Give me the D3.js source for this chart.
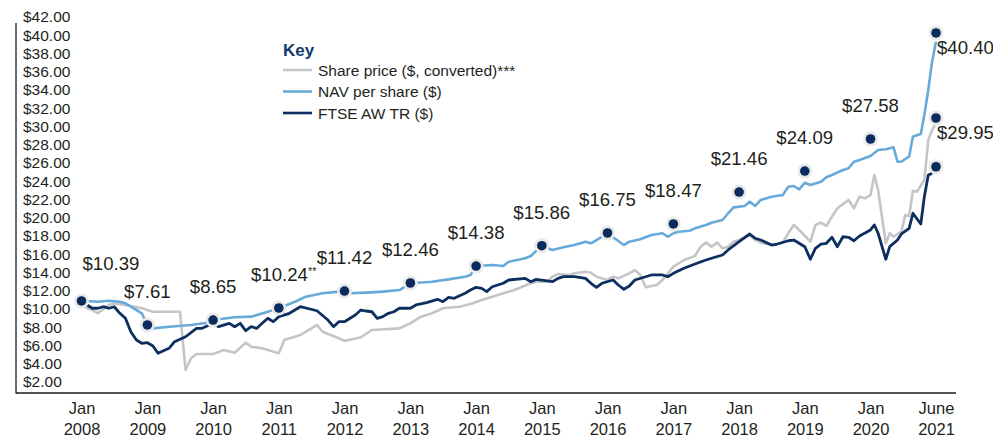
<!DOCTYPE html>
<html><head><meta charset="utf-8">
<script src="https://cdn.jsdelivr.net/npm/d3@7"></script>
<style>
body{margin:0;background:#fff;}
svg{display:block;font-family:"Liberation Sans",Arial,Helvetica,sans-serif;}
</style></head><body>
<svg id="chart" width="993" height="439"></svg>
<script>
// ---------------- DATA ----------------
const seriesNames = ["Share price ($, converted)***", "NAV per share ($)", "FTSE AW TR ($)"];

const navMonths = ["2008-01","2008-04","2008-06","2008-08","2008-09","2008-10","2008-12","2009-01","2009-02","2009-05","2009-09","2009-12","2010-01","2010-05","2010-08","2010-11","2011-01","2011-04","2011-06","2011-09","2011-12","2012-01","2012-02","2012-05","2012-08","2012-11","2013-01","2013-05","2013-08","2013-11","2013-12","2014-01","2014-04","2014-06","2014-07","2014-10","2014-11","2015-01","2015-03","2015-05","2015-07","2015-09","2015-10","2015-11","2016-01","2016-02","2016-04","2016-05","2016-07","2016-09","2016-11","2016-12","2017-01","2017-02","2017-04","2017-05","2017-07","2017-08","2017-10","2017-11","2017-12","2018-02","2018-03","2018-04","2018-05","2018-07","2018-09","2018-10","2018-11","2018-12","2019-01","2019-02","2019-04","2019-05","2019-06","2019-08","2019-09","2019-10","2019-11","2020-01","2020-03","2020-05","2020-07","2020-08","2020-09","2020-11","2020-12","2021-02","2021-03","2021-04","2021-05","2021-06"];
const navValues = [10.91,10.79,10.91,10.80,10.62,10.25,9.53,8.25,7.88,8.06,8.25,8.50,8.79,9.09,9.16,9.70,10.08,10.80,11.35,11.72,11.90,11.97,11.72,11.79,11.90,12.08,12.82,12.99,13.25,13.54,13.73,14.71,14.82,14.71,15.18,15.56,15.81,16.94,16.47,16.76,17.01,17.38,17.20,17.56,18.30,17.86,17.01,17.38,17.64,18.11,18.30,17.92,18.30,18.47,18.58,18.84,19.20,19.46,19.75,20.49,21.14,21.29,21.76,21.29,21.95,22.31,22.49,23.40,23.48,23.11,23.84,23.59,23.95,24.43,24.68,25.23,25.42,26.14,26.33,26.77,27.42,27.50,27.72,26.14,26.16,26.71,28.91,29.18,31.26,34.00,37.10,39.30];

const ftseMonths = ["2008-01","2008-02","2008-03","2008-04","2008-05","2008-06","2008-07","2008-08","2008-09","2008-10","2008-11","2008-12","2009-01","2009-02","2009-03","2009-05","2009-06","2009-08","2009-10","2009-11","2010-01","2010-02","2010-04","2010-05","2010-06","2010-07","2010-08","2010-09","2010-10","2010-11","2010-12","2011-01","2011-03","2011-05","2011-08","2011-10","2011-11","2011-12","2012-01","2012-03","2012-04","2012-05","2012-06","2012-07","2012-08","2012-09","2012-10","2012-11","2013-01","2013-02","2013-04","2013-06","2013-07","2013-08","2013-09","2013-11","2013-12","2014-01","2014-02","2014-03","2014-04","2014-06","2014-07","2014-10","2014-11","2014-12","2015-03","2015-04","2015-05","2015-07","2015-09","2015-10","2015-11","2015-12","2016-02","2016-03","2016-04","2016-05","2016-06","2016-09","2016-11","2016-12","2017-01","2017-03","2017-05","2017-07","2017-08","2017-10","2017-11","2018-01","2018-03","2018-04","2018-05","2018-07","2018-08","2018-10","2018-11","2019-01","2019-02","2019-03","2019-04","2019-05","2019-06","2019-07","2019-08","2019-09","2019-10","2019-11","2020-01","2020-02","2020-03","2020-05","2020-06","2020-08","2020-09","2020-11","2020-12","2021-02","2021-03","2021-04","2021-05"];
const ftseValues = [10.91,10.44,10.08,10.08,10.25,10.08,10.25,9.53,8.98,7.51,6.60,6.24,6.31,5.95,5.15,5.69,6.42,6.96,7.88,7.88,8.43,8.06,8.43,8.06,8.43,7.62,8.06,7.88,8.43,8.98,8.61,9.16,9.53,10.25,9.81,8.79,8.06,8.61,8.61,9.34,9.89,9.78,9.70,8.98,9.16,9.53,9.70,10.08,10.08,10.44,10.69,11.06,10.80,11.28,11.17,11.72,12.08,12.38,12.27,11.90,12.44,12.82,13.18,13.36,12.99,13.25,12.99,13.36,13.54,13.54,13.36,12.82,12.38,12.82,13.18,12.63,12.16,12.52,13.18,13.73,13.73,13.54,13.91,14.46,14.93,15.37,15.56,15.92,16.47,17.38,18.22,17.75,17.56,17.01,17.12,17.48,17.56,16.83,15.45,16.65,17.12,17.20,17.86,16.83,17.92,17.86,17.48,18.00,18.66,19.21,18.30,15.45,16.83,17.56,18.22,18.84,20.49,19.32,22.31,24.68,24.86];

const shareMonths = ["2008-01","2008-02","2008-03","2008-04","2008-06","2008-07","2008-09","2008-12","2009-02","2009-07","2009-08","2009-09","2009-10","2010-01","2010-03","2010-05","2010-07","2010-08","2010-10","2011-01","2011-02","2011-05","2011-07","2011-08","2011-09","2011-12","2012-01","2012-04","2012-06","2012-11","2013-01","2013-03","2013-05","2013-07","2013-10","2013-12","2014-02","2014-04","2014-06","2014-08","2014-11","2014-12","2015-02","2015-03","2015-04","2015-06","2015-07","2015-09","2015-10","2015-11","2016-01","2016-02","2016-03","2016-05","2016-06","2016-07","2016-08","2016-09","2016-10","2016-11","2016-12","2017-01","2017-03","2017-05","2017-06","2017-07","2017-08","2017-09","2017-10","2017-11","2017-12","2018-01","2018-03","2018-04","2018-05","2018-07","2018-09","2018-10","2018-11","2018-12","2019-02","2019-03","2019-04","2019-05","2019-06","2019-07","2019-09","2019-10","2019-11","2019-12","2020-01","2020-02","2020-03","2020-05","2020-06","2020-07","2020-09","2020-10","2020-11","2020-12","2021-01","2021-03","2021-04","2021-05","2021-06"];
const shareValues = [10.91,10.08,9.89,9.53,10.44,10.62,10.44,10.08,9.70,9.70,3.32,4.60,5.07,5.07,5.51,5.21,6.31,5.87,5.69,5.15,6.60,7.15,7.88,8.25,7.51,6.79,6.49,6.90,7.70,7.88,8.43,9.16,9.53,10.08,10.25,10.55,10.99,11.35,11.72,12.08,12.82,12.99,12.99,13.54,13.84,13.73,13.91,14.09,13.98,13.54,13.18,13.54,13.36,13.91,14.27,13.73,12.38,12.52,12.63,13.18,13.91,14.64,15.37,15.81,16.83,17.27,16.83,17.27,16.65,16.83,17.38,17.56,18.11,17.56,17.27,17.01,17.27,18.30,19.20,18.66,17.38,19.20,19.46,19.10,20.12,21.04,21.95,21.04,22.31,22.13,22.49,24.68,23.04,17.20,18.30,17.92,18.47,20.30,20.19,22.96,22.85,24.14,28.52,29.62,30.35];

// annotated NAV markers (Jan of each year) and their labels
const markerMonths = ["2008-01","2009-01","2010-01","2011-01","2012-01","2013-01","2014-01","2015-01","2016-01","2017-01","2018-01","2019-01","2020-01"];
const markerValues = [10.88,8.25,8.79,10.11,11.97,12.85,14.71,16.94,18.33,19.32,22.82,25.12,28.63];
const markerLabels = ["$10.39","$7.61","$8.65","$10.24","$11.42","$12.46","$14.38","$15.86","$16.75","$18.47","$21.46","$24.09","$27.58"];
const markerNotes = ["","","","**","","","","","","","","",""];

// end-of-period markers (June 2021): NAV, share price, FTSE
const endMonth = "2021-06";
const endValues = [40.25, 30.93, 25.59];
const endLabels = ["$40.40", "$29.95", ""];

const yTicks = [2,4,6,8,10,12,14,16,18,20,22,24,26,28,30,32,34,36,38,40,42];
const xTickMonths = ["2008-01","2009-01","2010-01","2011-01","2012-01","2013-01","2014-01","2015-01","2016-01","2017-01","2018-01","2019-01","2020-01","2021-06"];
const xTickTop = ["Jan","Jan","Jan","Jan","Jan","Jan","Jan","Jan","Jan","Jan","Jan","Jan","Jan","June"];
const xTickBottom = ["2008","2009","2010","2011","2012","2013","2014","2015","2016","2017","2018","2019","2020","2021"];

// ---------------- CHART ----------------
const parse = d3.timeParse("%Y-%m");
const svg = d3.select("#chart");
const colors = {share: "#c4c5c7", nav: "#67aad9", ftse: "#0d2f60"};
const textColor = "#231f20";

const x = d3.scaleTime()
  .domain([parse("2008-01"), parse("2020-01"), parse("2021-06")])
  .range([81.5, 870.5, 936]);
const y = d3.scaleLinear().domain([0.795, 42]).range([393, 17]);

function series(months, values){ return months.map((m,i)=>({date: parse(m), value: values[i]})); }
const line = d3.line().x(d=>x(d.date)).y(d=>y(d.value));

// axes
const yAxis = d3.axisRight(y).tickValues(yTicks).tickSize(0).tickPadding(7)
  .tickFormat(d => "$" + d.toFixed(2));
const gy = svg.append("g").attr("transform", "translate(16,0)").call(yAxis);
gy.select(".domain").remove();
gy.selectAll("text").attr("font-size", "15.5px").attr("fill", textColor)
  .attr("font-family", '"Liberation Sans",Arial,sans-serif');

const xAxis = d3.axisBottom(x).tickValues(xTickMonths.map(parse)).tickSize(0).tickFormat("");
const gx = svg.append("g").attr("transform", `translate(0,${y.range()[0]})`).call(xAxis);
gx.select(".domain").remove();
gx.selectAll(".tick").each(function(d, i){
  const t = d3.select(this).append("text").attr("fill", textColor).attr("font-size", "16.5px")
    .attr("text-anchor", "middle").attr("font-family", '"Liberation Sans",Arial,sans-serif');
  t.append("tspan").attr("x", 0).attr("y", 21).text(xTickTop[i]);
  t.append("tspan").attr("x", 0).attr("y", 42).text(xTickBottom[i]);
});

// axis lines
const y0 = y.range()[0];
svg.append("line").attr("x1", 16).attr("x2", 16).attr("y1", y.range()[1] + 6).attr("y2", y0 + 0.5)
  .attr("stroke", "#1a1a1a").attr("stroke-width", 1.3);
svg.append("line").attr("x1", 16).attr("x2", 956).attr("y1", y0).attr("y2", y0)
  .attr("stroke", "#1a1a1a").attr("stroke-width", 1.3);

// lines
svg.append("path").datum(series(shareMonths, shareValues)).attr("d", line)
  .attr("fill", "none").attr("stroke", colors.share).attr("stroke-width", 2.6).attr("stroke-linejoin", "round");
svg.append("path").datum(series(navMonths, navValues)).attr("d", line)
  .attr("fill", "none").attr("stroke", colors.nav).attr("stroke-width", 2.6).attr("stroke-linejoin", "round");
svg.append("path").datum(series(ftseMonths, ftseValues)).attr("d", line)
  .attr("fill", "none").attr("stroke", colors.ftse).attr("stroke-width", 2.8).attr("stroke-linejoin", "round");

// markers
const markers = markerMonths.map((m,i)=>({date: parse(m), value: markerValues[i], label: markerLabels[i], note: markerNotes[i], idx: i, end: false}))
  .concat(endValues.map((v,i)=>({date: parse(endMonth), value: v, label: endLabels[i], note: "", idx: i, end: true})));

const mg = svg.append("g");
mg.selectAll("circle.halo").data(markers).join("circle").attr("class", "halo")
  .attr("cx", d=>x(d.date)).attr("cy", d=>y(d.value)).attr("r", 7.5).attr("fill", "#e9e9ea");
mg.selectAll("circle.dot").data(markers).join("circle").attr("class", "dot")
  .attr("cx", d=>x(d.date)).attr("cy", d=>y(d.value)).attr("r", 4.8).attr("fill", "#0b2b5c");

const lg = svg.append("g").attr("font-size", "18.6px").attr("fill", textColor);
markers.filter(d=>d.label).forEach(d=>{
  const cx = x(d.date), cy = y(d.value);
  let anchor = "middle", tx = cx, ty = cy - 27;
  if (d.end) { anchor = "start"; tx = cx + 1; ty = cy + 21; }
  else if (d.idx === 0) { anchor = "start"; tx = cx + 1; ty = cy - 31; }
  if (d.note) tx += 5;
  const t = lg.append("text").attr("x", tx).attr("y", ty).attr("text-anchor", anchor).text(d.label);
  if (d.note) t.append("tspan").attr("font-size", "11px").attr("dy", -6).text(d.note);
});

// legend
const leg = svg.append("g").attr("transform", "translate(283,0)");
leg.append("text").attr("x", 0).attr("y", 56).attr("font-size", "17px").attr("font-weight", "bold")
  .attr("fill", "#123a6d").text("Key");
const legColors = [colors.share, colors.nav, colors.ftse];
seriesNames.forEach((name, i) => {
  const ly = 70 + i * 21.5;
  leg.append("line").attr("x1", 0).attr("x2", 29).attr("y1", ly).attr("y2", ly)
    .attr("stroke", legColors[i]).attr("stroke-width", 2.6);
  leg.append("text").attr("x", 35).attr("y", ly + 5.5).attr("font-size", "15.5px").attr("fill", textColor).text(name);
});
</script>
</body></html>
